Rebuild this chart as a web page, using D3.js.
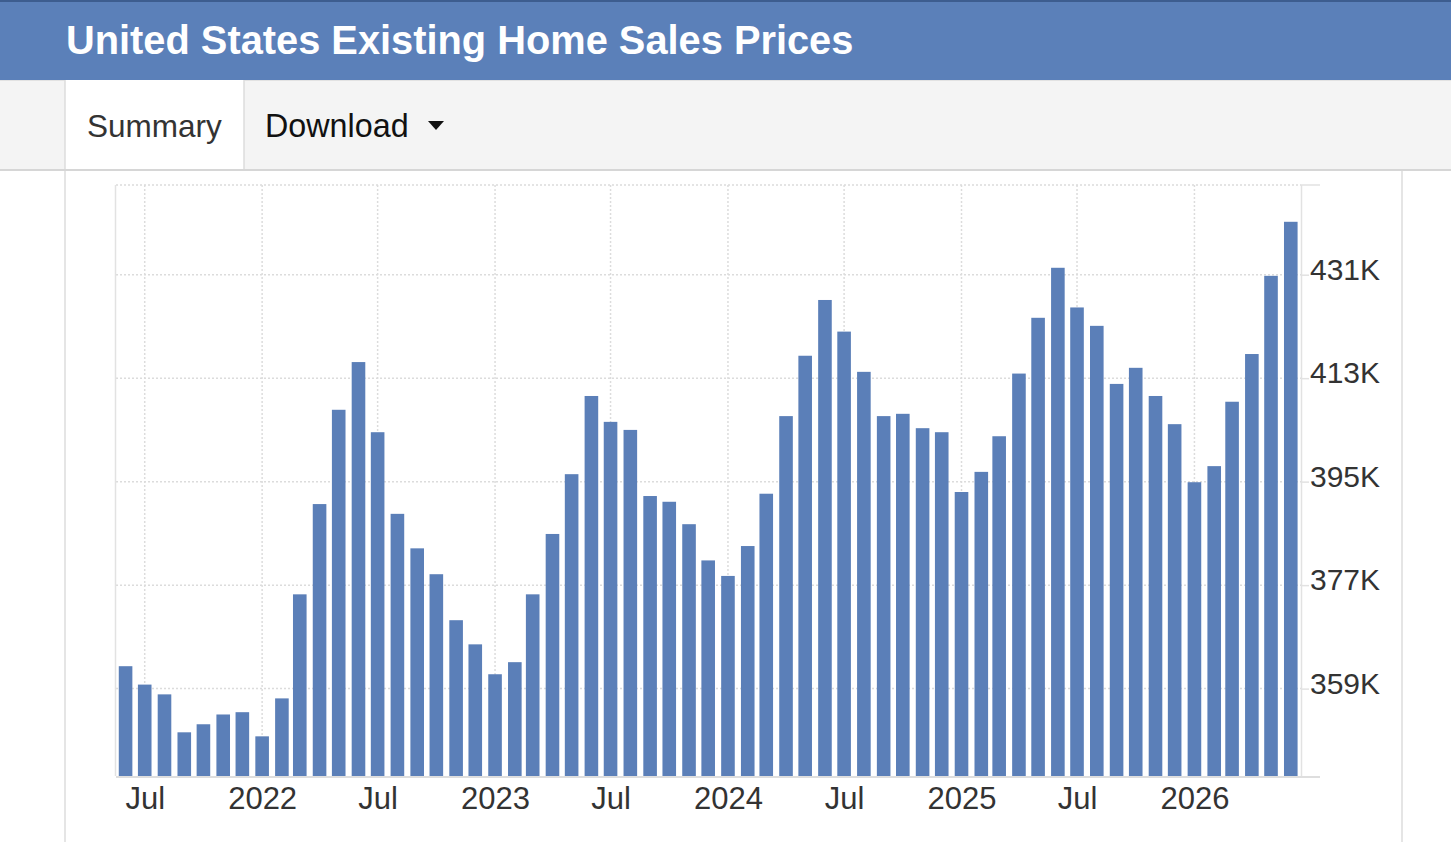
<!DOCTYPE html>
<html>
<head>
<meta charset="utf-8">
<script src="https://cdn.jsdelivr.net/npm/d3@7"></script>
<style>
  html, body { margin: 0; padding: 0; background: #fff; }
  svg { display: block; }
  text { font-family: "Liberation Sans", Arial, Helvetica, sans-serif; }
</style>
</head>
<body>
<svg id="chart" width="1451" height="842"></svg>
<script>
const title = "United States Existing Home Sales Prices";
const tabs = ["Summary", "Download"];

const months = [
  "2021-06","2021-07","2021-08","2021-09","2021-10","2021-11","2021-12",
  "2022-01","2022-02","2022-03","2022-04","2022-05","2022-06","2022-07","2022-08","2022-09","2022-10","2022-11","2022-12",
  "2023-01","2023-02","2023-03","2023-04","2023-05","2023-06","2023-07","2023-08","2023-09","2023-10","2023-11","2023-12",
  "2024-01","2024-02","2024-03","2024-04","2024-05","2024-06","2024-07","2024-08","2024-09","2024-10","2024-11","2024-12",
  "2025-01","2025-02","2025-03","2025-04","2025-05","2025-06","2025-07","2025-08","2025-09","2025-10","2025-11","2025-12",
  "2026-01","2026-02","2026-03","2026-04","2026-05","2026-06"
];

// thousands of USD
const prices = [
  362.9, 359.7, 358.0, 351.4, 352.8, 354.5, 354.9,
  350.7, 357.3, 375.4, 391.1, 407.5, 415.8, 403.6, 389.4, 383.4, 378.9, 370.9, 366.7,
  361.5, 363.6, 375.4, 385.9, 396.3, 409.9, 405.4, 404.0, 392.5, 391.5, 387.6, 381.3,
  378.6, 383.8, 392.9, 406.4, 416.9, 426.6, 421.1, 414.1, 406.4, 406.8, 404.3, 403.6,
  393.2, 396.7, 402.9, 413.8, 423.5, 432.2, 425.3, 422.1, 412.0, 414.8, 409.9, 405.0,
  394.9, 397.7, 408.9, 417.2, 430.8, 440.2
];

const yTicks = [359, 377, 395, 413, 431];
const xTickDates = ["2021-07","2022-01","2022-07","2023-01","2023-07","2024-01","2024-07","2025-01","2025-07","2026-01"];
const xTickLabels = ["Jul","2022","Jul","2023","Jul","2024","Jul","2025","Jul","2026"];

const parse = d3.timeParse("%Y-%m");
const data = months.map((m, i) => ({ date: parse(m), value: prices[i] }));

const svg = d3.select("#chart");
const W = 1451, H = 842;
const barColor = "#5b7fb8";

// ---- header ----
svg.append("rect").attr("x", 0).attr("y", 0).attr("width", W).attr("height", 80).attr("fill", "#5b80b9");
svg.append("rect").attr("x", 0).attr("y", 0).attr("width", W).attr("height", 2).attr("fill", "#3d5d8f");
svg.append("text").attr("x", 66).attr("y", 54)
  .attr("fill", "#fff").attr("font-weight", "bold").attr("font-size", 39.8)
  .text(title);

// ---- tab bar ----
svg.append("rect").attr("x", 0).attr("y", 80).attr("width", W).attr("height", 90).attr("fill", "#f4f4f4");
svg.append("rect").attr("x", 0).attr("y", 80).attr("width", W).attr("height", 1).attr("fill", "#e2e2e2");
svg.append("rect").attr("x", 65).attr("y", 80).attr("width", 179).attr("height", 90).attr("fill", "#fff");
svg.append("line").attr("x1", 65).attr("x2", 65).attr("y1", 80).attr("y2", H).attr("stroke", "#dcdcdc").attr("stroke-width", 1.5);
svg.append("line").attr("x1", 244).attr("x2", 244).attr("y1", 80).attr("y2", 170).attr("stroke", "#dcdcdc").attr("stroke-width", 1.5);
svg.append("rect").attr("x", 0).attr("y", 169).attr("width", W).attr("height", 2).attr("fill", "#d6d6d6");
svg.append("line").attr("x1", 1402).attr("x2", 1402).attr("y1", 171).attr("y2", H).attr("stroke", "#dcdcdc").attr("stroke-width", 1.5);

svg.append("text").attr("x", 87).attr("y", 137).attr("fill", "#333").attr("font-size", 31.5).text(tabs[0]);
svg.append("text").attr("x", 265).attr("y", 137).attr("fill", "#111").attr("font-size", 32.3).text(tabs[1]);
svg.append("path").attr("d", "M428,121 L444,121 L436,130 Z").attr("fill", "#111");

// ---- chart ----
const pLeft = 116, pRight = 1301, pTop = 185, pBottom = 776;
const x = d3.scaleTime()
  .domain([new Date(2021, 4, 17), new Date(2026, 5, 17)])
  .range([pLeft, pRight]);
const y = d3.scaleLinear()
  .domain([343.8, 446.6])
  .range([pBottom, pTop]);

const g = svg.append("g");

// horizontal gridlines
g.append("g").selectAll("line").data(yTicks).join("line")
  .attr("x1", pLeft).attr("x2", pRight)
  .attr("y1", d => y(d)).attr("y2", d => y(d))
  .attr("stroke", "#dcdcdc").attr("stroke-width", 1.5).attr("stroke-dasharray", "2,2");
// top gridline
g.append("line").attr("x1", pLeft).attr("x2", pRight).attr("y1", pTop).attr("y2", pTop)
  .attr("stroke", "#dcdcdc").attr("stroke-width", 1.5).attr("stroke-dasharray", "2,2");
g.append("line").attr("x1", pRight).attr("x2", 1320).attr("y1", pTop).attr("y2", pTop)
  .attr("stroke", "#e2e2e2").attr("stroke-width", 1.5);

// vertical gridlines
g.append("g").selectAll("line").data(xTickDates.map(parse)).join("line")
  .attr("x1", d => x(d)).attr("x2", d => x(d))
  .attr("y1", pTop).attr("y2", pBottom)
  .attr("stroke", "#dcdcdc").attr("stroke-width", 1.5).attr("stroke-dasharray", "2,2");

// frame line
g.append("line").attr("x1", pLeft - 0.5).attr("x2", pLeft - 0.5).attr("y1", pTop).attr("y2", pBottom)
  .attr("stroke", "#e2e2e2").attr("stroke-width", 1.5);

// bars
const bw = 13.6;
g.append("g").selectAll("rect").data(data).join("rect")
  .attr("x", d => x(d.date) - bw / 2)
  .attr("width", bw)
  .attr("y", d => y(d.value))
  .attr("height", d => pBottom - y(d.value))
  .attr("fill", barColor);

// y axis (right)
const yAxis = d3.axisRight(y).tickValues(yTicks).tickSize(8).tickPadding(1)
  .tickFormat(d => d + "K");
const ya = svg.append("g").attr("transform", `translate(${pRight},0)`).call(yAxis);
ya.select(".domain").attr("stroke", "#e2e2e2").attr("stroke-width", 1.5)
  .attr("d", `M0.5,${pTop}V${pBottom}`);
ya.selectAll(".tick line").attr("stroke", "#e2e2e2").attr("stroke-width", 1.5);
ya.selectAll(".tick text").attr("font-size", 30).attr("fill", "#333")
  .attr("font-family", "'Liberation Sans', Arial, sans-serif")
  .attr("dy", null).attr("y", 4.5);

// x axis
const xAxis = d3.axisBottom(x).tickValues(xTickDates.map(parse)).tickSize(0).tickPadding(0)
  .tickFormat((d, i) => xTickLabels[i]);
const xa = svg.append("g").attr("transform", `translate(0,${pBottom})`).call(xAxis);
xa.select(".domain").attr("stroke", "#dedede").attr("stroke-width", 2)
  .attr("d", `M${pLeft},1V1H1320`);
xa.selectAll(".tick text").attr("font-size", 31).attr("fill", "#333")
  .attr("font-family", "'Liberation Sans', Arial, sans-serif")
  .attr("dy", null).attr("y", 32.5);
</script>
</body>
</html>
